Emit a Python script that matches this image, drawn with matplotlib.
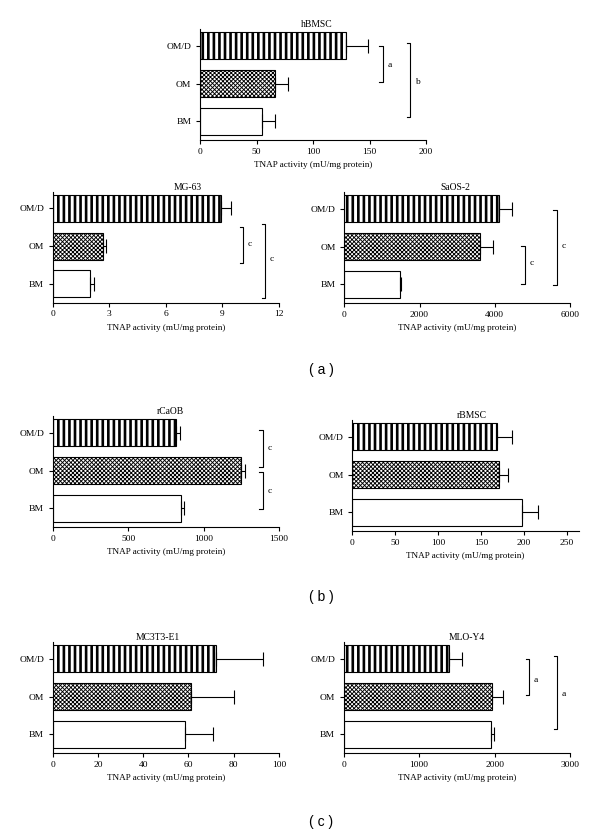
# TNAP activity per cell type, three culture media (BM, OM, OM/D)
import matplotlib
matplotlib.use('Agg')
import matplotlib.pyplot as plt
import numpy as np

plt.rcParams['font.family'] = ['Liberation Serif', 'DejaVu Serif']
plt.rcParams['hatch.linewidth'] = 1.9

groups = ['BM', 'OM', 'OM/D']
cells = ['hBMSC', 'MG-63', 'SaOS-2', 'rCaOB', 'rBMSC', 'MC3T3-E1', 'MLO-Y4']

# means and SD, order BM, OM, OM/D
hbmsc_mean = [55, 66, 129]
hbmsc_err = [11, 12, 20]
mg63_mean = [1.98, 2.65, 8.95]
mg63_err = [0.22, 0.17, 0.52]
saos2_mean = [1471, 3616, 4121]
saos2_err = [45, 346, 346]
rcaob_mean = [849, 1251, 814]
rcaob_err = [22, 26, 31]
rbmsc_mean = [198, 171, 168]
rbmsc_err = [18, 10, 18]
mc3t3_mean = [58.5, 61, 72]
mc3t3_err = [12.5, 19, 21]
mloy4_mean = [1949, 1971, 1396]
mloy4_err = [48, 146, 168]

xlims = [200, 12, 6000, 1500, 264, 100, 3000]
xticks = [np.arange(0, 201, 50), np.arange(0, 13, 3), np.arange(0, 6001, 2000),
          np.arange(0, 1501, 500), np.arange(0, 251, 50), np.arange(0, 101, 20),
          np.arange(0, 3001, 1000)]

# significance brackets: (x, y from, y to, letter)
signif = [
    [(162, 1.05, 2.0, 'a'), (186, 0.11, 2.09, 'b')],
    [(10.1, 0.54, 1.5, 'c'), (11.27, -0.38, 1.6, 'c')],
    [(4803, 0.01, 1.02, 'c'), (5645, -0.03, 1.96, 'c')],
    [(1394, 1.09, 2.07, 'c'), (1394, -0.01, 0.96, 'c')],
    [],
    [],
    [(2461, 1.04, 1.99, 'a'), (2832, 0.13, 2.09, 'a')],
]
signif_label_y = [[1.48, 1.03], [1.05, 0.66], [0.56, 1.02], [1.6, 0.46], [], [], [1.44, 1.06]]

means = [hbmsc_mean, mg63_mean, saos2_mean, rcaob_mean, rbmsc_mean, mc3t3_mean, mloy4_mean]
errs = [hbmsc_err, mg63_err, saos2_err, rcaob_err, rbmsc_err, mc3t3_err, mloy4_err]

W, H = 600, 835
# axes boxes in pixels: left, right, top, bottom
boxes = [(200, 426, 29, 140), (52.7, 279, 191.5, 302.7), (344.3, 570, 192, 303),
         (52.7, 279, 416, 527), (352.3, 579, 420, 531), (52.7, 279, 642, 753),
         (343.7, 570, 642, 753)]
title_x = [0.516, 0.598, 0.49, 0.52, 0.527, 0.465, 0.543]

fig = plt.figure(figsize=(W / 100, H / 100), dpi=100)

hatches = ['', 'xxxxxxxx', '|||']
fs = 6.8

for i, cell in enumerate(cells):
    l, r, t, b = boxes[i]
    ax = fig.add_axes([l / W, 1 - b / H, (r - l) / W, (b - t) / H])
    y = np.arange(3)
    bars = ax.barh(y, means[i], height=0.72, color='white', edgecolor='black',
                   linewidth=0.8, zorder=2)
    for bar, h in zip(bars, hatches):
        bar.set_hatch(h)
        if h.startswith('x') and hasattr(bar, 'set_hatch_linewidth'):
            bar.set_hatch_linewidth(0.65)
    ax.errorbar(means[i], y, xerr=[np.zeros(3), errs[i]], fmt='none', ecolor='black',
                elinewidth=0.8, capsize=5, capthick=0.8, zorder=3)

    ax.set_xlim(0, xlims[i])
    ax.set_ylim(-0.5, 2.45)
    ax.set_xticks(xticks[i])
    ax.set_yticks(y)
    ax.set_yticklabels(groups)
    ax.spines['top'].set_visible(False)
    ax.spines['right'].set_visible(False)
    for s in ['left', 'bottom']:
        ax.spines[s].set_linewidth(0.8)
    ax.tick_params(axis='both', direction='out', length=3, width=0.8, labelsize=fs)
    ax.tick_params(axis='x', pad=2.5)
    ax.tick_params(axis='y', pad=3.2)
    ax.set_xlabel('TNAP activity (mU/mg protein)', fontsize=6.6, labelpad=4)
    ax.text(title_x[i], 1.0, cell, transform=ax.transAxes, ha='center', va='bottom',
            fontsize=6.9)

    stub = 0.016 * xlims[i]
    for (x, y0, y1, lab), ly in zip(signif[i], signif_label_y[i]):
        ax.plot([x - stub, x, x, x - stub], [y0, y0, y1, y1], color='black',
                lw=0.8, clip_on=False)
        ax.text(x + 0.02 * xlims[i], ly, lab, ha='left', va='center', fontsize=fs)

for lab, yp in [('( a )', 370), ('( b )', 597), ('( c )', 822)]:
    fig.text(321 / W, 1 - yp / H, lab, ha='center', va='center', fontsize=10,
             family=['Liberation Sans', 'DejaVu Sans'])

fig.savefig('out.png', dpi=100)
